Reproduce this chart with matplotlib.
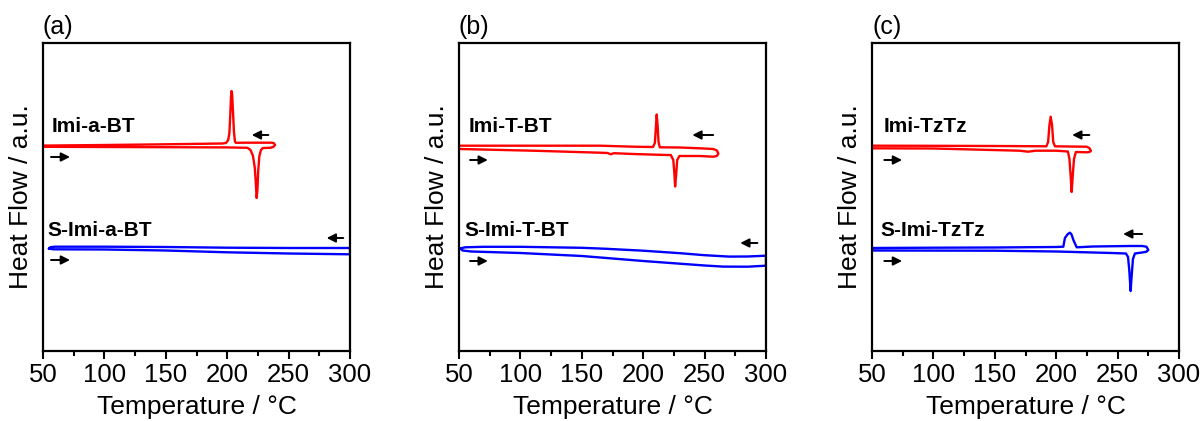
import matplotlib
matplotlib.use("Agg")
import matplotlib.pyplot as plt
from matplotlib.ticker import MultipleLocator

plt.rcParams['font.family'] = ['Liberation Sans', 'DejaVu Sans']

# ---------------- data (Temperature / °C, Heat flow / a.u.) ----------------
# Panel (a)
a_red_heat_T = [50, 100, 150, 200, 216.5, 219, 221, 222.5, 223.4, 224, 224.6, 225.3, 226.2, 227.5, 229, 235, 237.5, 239]
a_red_heat_H = [204.2, 204, 203.8, 203.6, 203.2, 201, 195, 183, 166, 153, 161, 181, 195, 201, 203, 203.2, 204, 206]
a_red_cool_T = [239, 238, 236, 215, 207, 206.3, 205.5, 204.7, 204.0, 203.6, 203.1, 202.5, 201.8, 200.8, 199, 196, 150, 100, 50]
a_red_cool_H = [206, 207.8, 208.3, 208.3, 208.2, 209.5, 219, 240, 257, 260, 254, 236, 218, 211, 208, 207.5, 206.7, 206, 205.4]
a_blue_heat_T = [55, 58, 100, 150, 200, 250, 300]
a_blue_heat_H = [102.5, 101.7, 101.5, 100.5, 98.7, 97.5, 96.7]
a_blue_cool_T = [300, 300, 250, 200, 150, 100, 60, 56, 55]
a_blue_cool_H = [96.7, 103, 103, 103.3, 104, 104.3, 104.3, 103.8, 102.5]

# Panel (b)
b_red_heat_T = [50.8, 110, 165, 171, 173.5, 176, 192, 219, 222.5, 224.5, 225.3, 226, 226.8, 227.7, 229.5, 246, 257, 260, 261.2]
b_red_heat_H = [202, 200.3, 198.3, 198, 196.7, 197.8, 197, 196, 196, 191, 179, 164.5, 176, 191, 195, 195, 194.3, 195, 197.5]
b_red_cool_T = [261.2, 260, 257, 246, 230, 213.5, 212.5, 211.7, 211, 210.3, 209.5, 208, 192, 165, 110, 50.8]
b_red_cool_H = [197.5, 200.5, 202, 202.7, 203.5, 203.7, 209, 226, 236.5, 223, 208, 204, 204.3, 205.3, 205.3, 205.3]
b_blue_heat_T = [50.8, 53, 60, 100, 150, 200, 230, 250, 265, 285, 300]
b_blue_heat_H = [102.5, 100.5, 99.5, 98, 95, 90, 87.3, 85.5, 84.4, 84.3, 85.3]
b_blue_cool_T = [300, 300, 285, 270, 250, 230, 200, 170, 150, 100, 70, 55, 50.8]
b_blue_cool_H = [85.3, 95.3, 94.5, 94.4, 95.8, 97.8, 100.3, 102.2, 103.2, 104.2, 104.2, 103.7, 102.5]

# Panel (c)
c_red_heat_T = [50.2, 100, 170, 177.3, 183, 200, 209.5, 210.8, 211.6, 212.6, 213.5, 214.5, 216, 224.8, 227, 228.3]
c_red_heat_H = [202.7, 202.5, 200.3, 199.3, 200.3, 200.3, 199.5, 192, 178, 159, 176, 192, 199, 198.7, 199, 200]
c_red_cool_T = [228.3, 227, 224.8, 210, 199, 197.6, 196.6, 195.5, 194.5, 193.4, 192, 150, 100, 50.2]
c_red_cool_H = [200, 203, 204.3, 204.5, 204.7, 209, 226, 234.3, 226, 209, 204.7, 205, 205.2, 205.3]
c_blue_heat_T = [50.2, 150, 200, 245, 256.8, 258.5, 259.5, 260.6, 261.5, 262.5, 264.1, 270, 273.5, 275]
c_blue_heat_H = [100.5, 100.3, 99.5, 98, 97.5, 94, 81, 60, 76, 92, 97.5, 98.5, 99.3, 101]
c_blue_cool_T = [275, 273.5, 270, 260, 230, 216.7, 214, 212.5, 211.2, 209.5, 207.1, 205.8, 200, 150, 100, 50.2]
c_blue_cool_H = [101, 104.3, 105, 105, 104.5, 103.7, 111, 116.5, 118.3, 117, 113, 104.3, 104, 103.5, 103.3, 103]

panel_letters = ['(a)', '(b)', '(c)']
red_names = ['Imi-a-BT', 'Imi-T-BT', 'Imi-TzTz']
blue_names = ['S-Imi-a-BT', 'S-Imi-T-BT', 'S-Imi-TzTz']
red_label_pos = [(57.3, 224), (58.1, 224), (59.8, 224)]
blue_label_pos = [(53.3, 121), (54.1, 121), (56.5, 121)]
# arrows: (T_start, T_end, H)
red_heat_arrows = [(56.5, 72, 194), (59, 73.5, 191), (60, 74.5, 191)]
red_cool_arrows = [(233.5, 220, 216), (257, 240, 216), (227, 213, 216)]
blue_heat_arrows = [(56.5, 72, 91), (59, 73.5, 90), (60, 74.5, 90)]
blue_cool_arrows = [(294.5, 281, 113), (293, 279, 108), (270, 254.5, 117)]

x_ticks = [50, 100, 150, 200, 250, 300]

panels = [
    (a_red_heat_T, a_red_heat_H, a_red_cool_T, a_red_cool_H,
     a_blue_heat_T, a_blue_heat_H, a_blue_cool_T, a_blue_cool_H),
    (b_red_heat_T, b_red_heat_H, b_red_cool_T, b_red_cool_H,
     b_blue_heat_T, b_blue_heat_H, b_blue_cool_T, b_blue_cool_H),
    (c_red_heat_T, c_red_heat_H, c_red_cool_T, c_red_cool_H,
     c_blue_heat_T, c_blue_heat_H, c_blue_cool_T, c_blue_cool_H),
]

fig = plt.figure(figsize=(12.03, 4.21), dpi=100)
lefts = [43, 459, 872]
ylab_x = [21, 437, 850]
W, H = 1203, 421

for i, (rhT, rhH, rcT, rcH, bhT, bhH, bcT, bcH) in enumerate(panels):
    ax = fig.add_axes([lefts[i] / W, 70 / H, 307 / W, 308 / H])
    ax.plot(rhT + rcT, rhH + rcH, color='#ff0000', lw=1.7, solid_joinstyle='round')
    ax.plot(bhT + bcT, bhH + bcH, color='#0000ff', lw=1.7, solid_joinstyle='round')

    ax.set_xlim(50, 300)
    ax.set_ylim(0, 308)
    ax.set_xticks(x_ticks)
    ax.xaxis.set_minor_locator(MultipleLocator(25))
    ax.set_yticks([])
    ax.tick_params(axis='x', which='major', direction='out', length=6, width=1.5,
                   labelsize=18.5, pad=3, top=False)
    ax.tick_params(axis='x', which='minor', direction='out', length=3.5, width=1.5, top=False)
    for s in ax.spines.values():
        s.set_linewidth(1.6)

    ax.set_xlabel('Temperature / °C', fontsize=19, labelpad=0)
    ax.xaxis.set_label_coords(0.5, -(407 - 351) / 308)
    ax.xaxis.label.set_va('center')
    fig.text(ylab_x[i] / W, (421 - 197) / H, 'Heat Flow / a.u.', rotation=90,
             ha='center', va='center', fontsize=19)

    ax.text(0.0, 1.052, panel_letters[i], transform=ax.transAxes, ha='left', va='center', fontsize=18)
    ax.text(*red_label_pos[i], red_names[i], fontsize=15, fontweight='bold', ha='left', va='center')
    ax.text(*blue_label_pos[i], blue_names[i], fontsize=15, fontweight='bold', ha='left', va='center')

    for (t0, t1, h) in (red_heat_arrows[i], red_cool_arrows[i], blue_heat_arrows[i], blue_cool_arrows[i]):
        ax.annotate('', xy=(t1, h), xytext=(t0, h),
                    arrowprops=dict(arrowstyle='-|>', color='black', lw=1.4,
                                    mutation_scale=13, shrinkA=0, shrinkB=0))

fig.savefig('out.png', dpi=100)
